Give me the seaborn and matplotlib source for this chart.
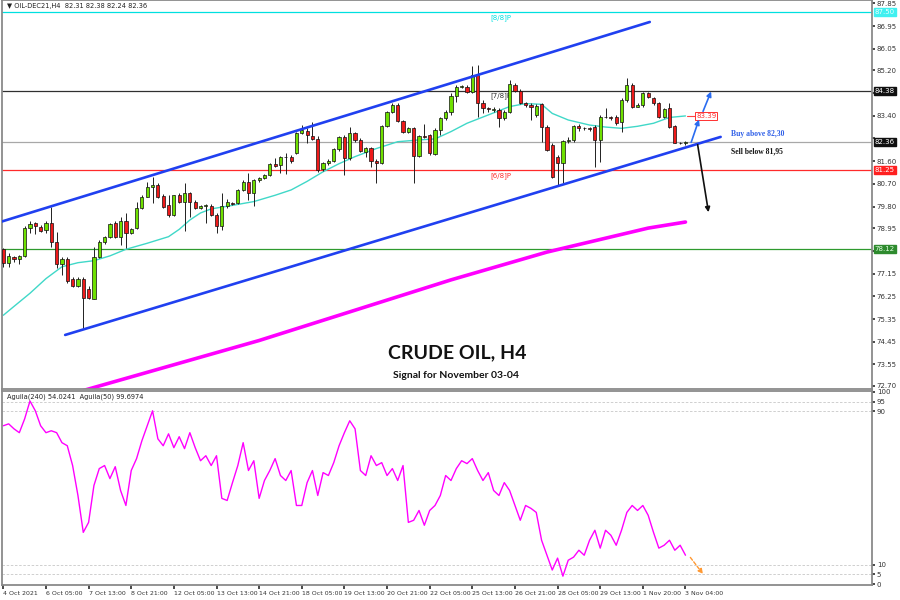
import matplotlib
matplotlib.use("Agg")
import matplotlib.pyplot as plt
import seaborn as sns

sns.set_theme(style="white")
plt.rcParams["font.family"] = ["DejaVu Sans"]

# ------------------------------------------------------------
# H4 candles, OIL-DEC21 (4 Oct 2021 -> 3 Nov 2021)
# ------------------------------------------------------------
opens = [78.11, 77.56, 77.82, 77.71, 77.86, 78.94, 79.14, 79.01, 78.88, 79.17,
         78.41, 77.53, 77.73, 76.94, 76.67, 76.94, 76.54, 76.16, 77.82, 78.41,
         78.58, 79.17, 78.61, 79.23, 78.74, 78.94, 79.76, 80.19, 80.59, 80.66,
         80.22, 79.86, 79.47, 80.26, 80.00, 80.35, 80.00, 79.76, 79.83, 79.84,
         79.47, 79.05, 79.84, 79.93, 79.93, 80.46, 80.76, 80.33, 80.85, 80.92,
         81.05, 81.47, 81.45, 81.75, 81.78, 81.91, 82.73, 82.79, 82.60, 82.48,
         81.28, 81.51, 81.62, 82.07, 82.54, 81.71, 82.70, 82.44, 81.98, 82.11,
         81.62, 81.54, 82.99, 83.56, 83.82, 83.19, 82.74, 82.90, 81.82, 82.60,
         82.64, 81.88, 82.83, 83.30, 83.53, 84.18, 84.52, 84.55, 84.35, 85.01,
         83.89, 83.69, 83.63, 83.63, 83.30, 83.56, 84.61, 84.39, 83.92, 83.82,
         83.43, 83.85, 82.97, 82.24, 81.75, 81.54, 82.41, 82.44, 83.01, 82.90,
         82.90, 82.97, 82.44, 83.36, 83.33, 83.36, 83.15, 84.02, 84.61, 83.76,
         83.82, 84.29, 84.09, 83.89, 83.33, 83.69, 83.01, 82.33, 82.31]
highs = [78.15, 77.98, 77.85, 77.89, 79.05, 79.23, 79.20, 79.07, 79.23, 79.77,
         78.81, 77.82, 77.79, 77.03, 77.00, 77.03, 76.67, 78.19, 78.48, 78.64,
         79.17, 79.23, 79.40, 79.56, 78.94, 80.00, 80.26, 80.79, 80.99, 80.72,
         80.29, 80.26, 80.26, 80.33, 80.75, 80.39, 80.06, 79.85, 79.90, 79.89,
         79.53, 80.33, 80.09, 80.00, 80.50, 80.85, 81.12, 80.89, 80.96, 81.09,
         81.51, 81.71, 81.80, 81.91, 81.83, 82.77, 83.03, 82.90, 83.14, 82.60,
         81.58, 81.67, 82.11, 82.60, 82.64, 82.97, 82.77, 82.50, 82.15, 82.17,
         81.67, 83.03, 83.60, 83.89, 83.89, 83.23, 82.97, 82.97, 82.64, 83.07,
         82.68, 82.90, 83.36, 83.63, 84.29, 84.61, 84.61, 84.60, 85.37, 85.41,
         84.02, 83.76, 83.76, 83.69, 83.63, 84.81, 84.68, 84.44, 83.96, 83.92,
         83.86, 83.92, 83.03, 82.31, 81.83, 82.44, 82.54, 83.03, 83.06, 82.97,
         82.97, 83.03, 83.43, 83.69, 83.39, 83.43, 84.09, 84.88, 84.68, 83.89,
         84.35, 84.35, 84.15, 83.96, 83.69, 83.92, 83.03, 82.37, 82.38]
lows = [77.42, 77.42, 77.62, 77.52, 77.82, 78.74, 78.72, 78.81, 78.74, 78.22,
        77.36, 77.09, 76.79, 76.63, 76.63, 74.94, 76.16, 76.13, 77.75, 78.32,
        78.55, 78.55, 78.28, 78.15, 78.72, 78.90, 79.71, 80.17, 79.93, 80.13,
        79.73, 79.40, 79.43, 79.93, 78.85, 79.40, 79.69, 79.71, 79.14, 79.43,
        78.77, 78.88, 79.73, 79.85, 79.90, 80.43, 80.06, 79.83, 80.79, 80.88,
        81.01, 81.38, 81.12, 81.08, 81.54, 81.88, 82.68, 82.31, 82.44, 81.18,
        81.22, 81.45, 81.58, 82.01, 81.05, 81.65, 82.37, 81.98, 81.75, 81.38,
        80.72, 81.49, 82.94, 83.52, 83.15, 82.70, 82.70, 80.75, 81.78, 82.50,
        81.84, 81.84, 82.64, 83.23, 83.43, 83.96, 84.48, 84.31, 84.31, 83.36,
        83.49, 83.56, 83.56, 82.97, 83.23, 83.52, 84.35, 83.87, 83.76, 83.23,
        83.36, 82.37, 82.01, 80.92, 80.62, 80.72, 82.31, 82.37, 82.81, 82.83,
        82.81, 81.38, 81.58, 83.30, 83.23, 83.03, 82.77, 83.96, 83.69, 83.73,
        83.76, 84.09, 83.82, 83.30, 83.30, 82.90, 82.31, 82.28, 82.24]
closes = [77.56, 77.86, 77.71, 77.86, 78.94, 79.10, 79.03, 78.85, 79.17, 78.41,
          77.53, 77.73, 76.86, 76.67, 76.94, 76.18, 76.18, 77.82, 78.41, 78.58,
          79.11, 78.61, 79.23, 78.74, 78.91, 79.76, 80.19, 80.59, 80.66, 80.19,
          79.80, 79.47, 80.26, 80.00, 80.35, 80.00, 79.76, 79.83, 79.86, 79.47,
          79.05, 79.84, 79.97, 79.90, 80.46, 80.76, 80.33, 80.85, 80.92, 81.05,
          81.47, 81.41, 81.75, 81.78, 81.62, 82.73, 82.83, 82.64, 82.48, 81.25,
          81.51, 81.62, 82.07, 82.54, 81.71, 82.70, 82.44, 82.01, 82.11, 81.62,
          81.51, 82.99, 83.53, 83.82, 83.19, 82.74, 82.90, 81.82, 82.60, 82.57,
          81.91, 82.83, 83.30, 83.53, 84.18, 84.52, 84.58, 84.35, 85.01, 83.89,
          83.69, 83.65, 83.68, 83.30, 83.56, 84.65, 84.39, 83.89, 83.82, 83.76,
          83.78, 82.97, 82.04, 80.96, 81.54, 82.41, 82.44, 83.01, 82.90, 82.90,
          82.87, 82.44, 83.36, 83.33, 83.30, 83.10, 84.02, 84.61, 83.76, 83.82,
          84.29, 84.13, 83.89, 83.36, 83.65, 82.97, 82.33, 82.31, 82.36]

# fast moving average (cyan)
ma_fast_bar = [0, 2, 5, 8, 11, 14, 17, 20, 23, 27, 31, 33, 35, 37, 39, 43, 47,
               51, 54, 57, 60, 63, 66, 70, 74, 78, 81, 84, 87, 91, 95, 98, 101,
               103, 106, 110, 113, 116, 119, 122, 125, 128]
ma_fast = [75.50, 75.85, 76.37, 76.95, 77.42, 77.58, 77.66, 77.85, 78.11, 78.35,
           78.61, 78.90, 79.27, 79.55, 79.71, 79.85, 80.00, 80.25, 80.46, 80.80,
           81.18, 81.50, 81.78, 82.10, 82.37, 82.44, 82.48, 82.77, 83.10, 83.43,
           83.76, 83.88, 83.85, 83.49, 83.23, 83.03, 82.95, 82.90, 82.98, 83.10,
           83.33, 83.39]

# slow moving average (magenta)
ma_slow_bar = [10, 16, 48, 84, 102, 121, 128]
ma_slow = [72.22, 72.58, 74.50, 76.90, 78.00, 78.95, 79.19]

# Murray levels
murray_vals = [87.50, 84.38, 81.25, 78.12]
murray_tags = ["[8/8]P", "[7/8]P", "[6/8]P", "[5/8]P"]
murray_cols = ["#00E0E0", "#303030", "#FF2A2A", "#2E9A2E"]
last_price = 82.36

# channel (bar index, price)
chan_up_x, chan_up_y = [-0.6, 121.3], [79.19, 87.11]
chan_lo_x, chan_lo_y = [11.6, 134.6], [74.72, 82.56]

# Aguila(240) oscillator
aguila = [82.4, 83.4, 80.8, 78.8, 86.0, 95.3, 90.2, 82.4, 78.8, 79.8,
          78.8, 73.6, 72.0, 61.7, 46.1, 26.9, 32.1, 51.3, 60.1, 61.7,
          54.9, 61.1, 48.7, 40.9, 59.1, 65.3, 74.6, 82.4, 90.2, 75.6,
          72.0, 78.2, 71.0, 76.7, 70.5, 78.8, 71.0, 64.2, 66.8, 61.7,
          66.8, 44.6, 43.5, 52.8, 61.7, 73.6, 59.1, 64.2, 44.6, 53.9,
          59.1, 65.3, 56.5, 53.9, 59.1, 40.9, 40.9, 52.8, 59.1, 46.1,
          58.0, 56.5, 63.2, 72.0, 78.8, 85.0, 80.8, 59.1, 56.5, 66.8,
          61.7, 63.2, 56.5, 60.1, 53.9, 61.7, 32.1, 33.2, 38.3, 30.6,
          38.3, 40.9, 46.1, 56.5, 53.9, 60.1, 64.2, 62.7, 65.3, 59.1,
          53.9, 58.0, 48.7, 46.1, 52.8, 48.7, 40.9, 33.2, 40.9, 39.4,
          37.3, 22.8, 15.0, 7.3, 13.5, 4.1, 12.4, 14.0, 17.6, 15.0,
          22.8, 28.0, 18.7, 28.0, 25.4, 20.2, 28.0, 37.3, 40.9, 38.3,
          40.9, 35.8, 26.9, 18.7, 20.2, 22.8, 17.6, 20.2, 15.0]

date_labels = ["4 Oct 2021", "6 Oct 05:00", "7 Oct 13:00", "8 Oct 21:00",
               "12 Oct 05:00", "13 Oct 13:00", "14 Oct 21:00", "18 Oct 05:00",
               "19 Oct 13:00", "20 Oct 21:00", "22 Oct 05:00", "25 Oct 13:00",
               "26 Oct 21:00", "28 Oct 05:00", "29 Oct 13:00", "1 Nov 20:00",
               "3 Nov 04:00"]
price_ticks = [87.85, 86.95, 86.05, 85.20, 84.30, 83.40, 82.50, 81.60, 80.70,
               79.80, 78.95, 78.05, 77.15, 76.25, 75.35, 74.45, 73.55, 72.70]
hidden_ticks = [84.30, 82.50, 78.05]  # covered by the level tags

bars = list(range(len(closes)))
XLIM = (-0.25, 163)
BULL, BEAR = "#6EE000", "#EE1A1A"
SPINE = "#8A8A8A"

fig = plt.figure(figsize=(9, 6), dpi=100)
ax = fig.add_axes([2 / 900, 1 - 389 / 600, 870 / 900, 389 / 600])
ax2 = fig.add_axes([2 / 900, 1 - 585 / 600, 870 / 900, 194 / 600])

# ---------------- price panel ----------------
for v, c in zip(murray_vals, murray_cols):
    ax.axhline(v, color=c, lw=0.9, zorder=1)
ax.axhline(last_price, color="#A8A8A8", lw=0.9, zorder=1)
for v, t, c in zip(murray_vals[:3], murray_tags[:3], murray_cols[:3]):
    ax.text(91.3, v - 0.07, t, color=c, fontsize=5, va="top", ha="left")

sns.lineplot(x=ma_slow_bar, y=ma_slow, ax=ax, color="#FF00FF", lw=2.6, zorder=2)
sns.lineplot(x=ma_fast_bar, y=ma_fast, ax=ax, color="#40D8C8", lw=1.0, zorder=2)

ax.plot(chan_up_x, chan_up_y, color="#2040F0", lw=1.9, zorder=4)
ax.plot(chan_lo_x, chan_lo_y, color="#2040F0", lw=1.9, zorder=4)

for i in bars:
    o, h, l, c = opens[i], highs[i], lows[i], closes[i]
    ax.vlines(i, l, h, color="#202020", lw=0.7, zorder=3)
    body = max(abs(c - o), 0.025)
    ax.bar(i, body, bottom=min(o, c), width=0.6,
           color=BULL if c >= o else BEAR, edgecolor="#101010", lw=0.5, zorder=3)

# signal arrows
arrow_kw = dict(arrowstyle="-|>", mutation_scale=7, lw=1.2)
ax.annotate("", xy=(130.7, 83.35), xytext=(128.9, 82.24),
            arrowprops=dict(color="#2a6cf0", **arrow_kw), zorder=5)
ax.annotate("", xy=(133.0, 84.46), xytext=(131.1, 83.47),
            arrowprops=dict(color="#2a6cf0", **arrow_kw), zorder=5)
ax.annotate("", xy=(132.4, 79.47), xytext=(130.2, 82.36),
            arrowprops=dict(color="#101010", **arrow_kw), zorder=5)
ax.text(136.5, 82.67, "Buy above 82,30", color="#3060E8", fontsize=5.5,
        fontweight="bold", family="Liberation Serif", va="center")
ax.text(136.5, 81.99, "Sell below 81,95", color="#151515", fontsize=5.5,
        fontweight="bold", family="Liberation Serif", va="center")

# MA price tag
ax.plot([128.3, 129.8], [ma_fast[-1], ma_fast[-1]], color="#FF4040", lw=0.8)
ax.text(130.0, ma_fast[-1], f"{ma_fast[-1]:.2f}", color="#FF3030", fontsize=5,
        va="center", ha="left",
        bbox=dict(boxstyle="square,pad=0.15", fc="white", ec="#FF3030", lw=0.7))

ax.text(85.2, 74.01, "CRUDE OIL, H4", fontsize=14, fontweight="bold",
        family="Lato", ha="center", va="center", color="#111111")
ax.text(84.9, 73.10, "Signal for November 03-04", fontsize=7.5, fontweight="bold",
        family="Lato", ha="center", va="center", color="#111111")
ax.text(0.006, 0.992, "\u25bc OIL-DEC21,H4  82.31 82.38 82.24 82.36",
        transform=ax.transAxes, fontsize=4.8, va="top", ha="left", color="#222222")

ax.set_xlim(*XLIM)
ax.set_ylim(72.58, 87.98)
ax.yaxis.tick_right()
ax.set_yticks(price_ticks)
ax.set_yticklabels(["" if v in hidden_ticks else f"{v:.2f}" for v in price_ticks])
ax.tick_params(axis="y", labelsize=5, length=2, pad=1.5, colors="#333333", right=True)
ax.set_xticks([])
ax.set_xlabel("")
ax.set_ylabel("")

# level tags on the price scale
ytr = ax.get_yaxis_transform()
tags = [(87.50, "#40F0F0", "#E8FFFF"), (84.38, "#101010", "white"),
        (last_price, "#101010", "white"), (81.25, "#FF2020", "white"),
        (78.12, "#2E8B2E", "#E0FFE0")]
for v, bg, fg in tags:
    ax.text(1.003, v, f"{v:.2f}", transform=ytr, fontsize=5, color=fg,
            va="center", ha="left", zorder=6,
            bbox=dict(boxstyle="square,pad=0.15", fc=bg, ec=bg))

# ---------------- oscillator panel ----------------
for lv in [95, 90, 10, 5]:
    ax2.axhline(lv, color="#C8C8C8", lw=0.6, ls=(0, (3, 2)))
sns.lineplot(x=bars, y=aguila, ax=ax2, color="#FF00FF", lw=1.0)
ax2.annotate("", xy=(131.6, 4.1), xytext=(128.6, 15.0),
             arrowprops=dict(arrowstyle="-|>", color="#FF9933", lw=1.0,
                             ls=(0, (2.5, 1.5)), mutation_scale=7))
ax2.text(0.006, 0.985, "Aguila(240) 54.0241  Aguila(50) 99.6974",
         transform=ax2.transAxes, fontsize=4.8, va="top", ha="left", color="#222222")

ax2.set_xlim(*XLIM)
ax2.set_ylim(-0.5, 100.5)
ax2.yaxis.tick_right()
ax2.set_yticks([0, 5, 10, 90, 95, 100])
ax2.set_yticklabels(["0", "5", "10", "90", "95", "100"])
ax2.tick_params(axis="y", labelsize=5, length=2, pad=1.5, colors="#333333", right=True)
ax2.set_xticks(bars[::8])
ax2.set_xticklabels(date_labels, ha="left")
ax2.tick_params(axis="x", labelsize=4.5, length=3, pad=1.5, colors="#333333", bottom=True)
ax2.set_xlabel("")
ax2.set_ylabel("")

for a in (ax, ax2):
    for s in a.spines.values():
        s.set_color(SPINE)
        s.set_linewidth(1.3)
        s.set_visible(True)
    a.grid(False)

fig.savefig("out.png", dpi=100, facecolor="white")
